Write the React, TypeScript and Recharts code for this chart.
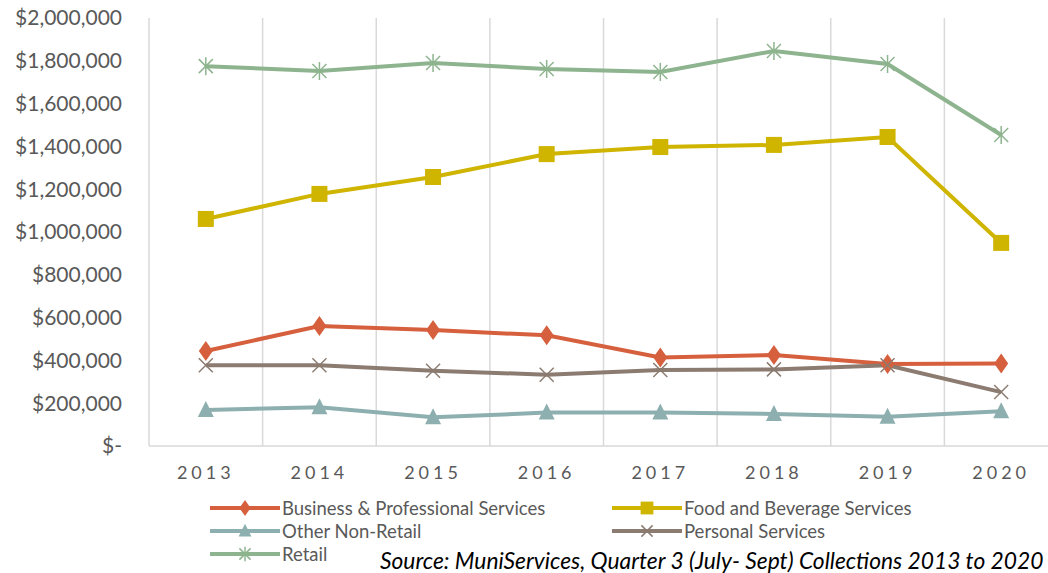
import { LineChart, Line, XAxis, YAxis, CartesianGrid } from 'recharts'

const years = ['2013', '2014', '2015', '2016', '2017', '2018', '2019', '2020']

const business = [444000, 561000, 542000, 517000, 414000, 425000, 383000, 386000]
const food = [1061000, 1178000, 1257000, 1364000, 1397000, 1407000, 1444000, 949000]
const otherNonRetail = [168000, 181000, 134000, 156000, 156000, 150000, 137000, 162000]
const personal = [377000, 377000, 352000, 333000, 355000, 358000, 377000, 252000]
const retail = [1775000, 1752000, 1790000, 1762000, 1748000, 1846000, 1785000, 1453000]

const yTicks = [0, 200000, 400000, 600000, 800000, 1000000, 1200000, 1400000, 1600000, 1800000, 2000000]

const series = [
  { key: 'business', name: 'Business & Professional Services', color: '#D6603E', shape: 'diamond' },
  { key: 'food', name: 'Food and Beverage Services', color: '#CFB400', shape: 'square' },
  { key: 'other', name: 'Other Non-Retail', color: '#8EAFAF', shape: 'triangle' },
  { key: 'personal', name: 'Personal Services', color: '#8B7B70', shape: 'x' },
  { key: 'retail', name: 'Retail', color: '#8DB48E', shape: 'star' },
]

const data = years.map((y, i) => ({
  year: y,
  business: business[i],
  food: food[i],
  other: otherNonRetail[i],
  personal: personal[i],
  retail: retail[i],
}))

const FONT = 'Lato, "Open Sans", sans-serif'
const HALF_BAND = 909 / years.length / 2

function Marker({ cx, cy, shape, color, scale = 1 }: any) {
  if (cx == null || cy == null) return null
  const s = scale
  switch (shape) {
    case 'diamond':
      return <polygon points={`${cx},${cy - 10 * s} ${cx + 7 * s},${cy} ${cx},${cy + 10 * s} ${cx - 7 * s},${cy}`} fill={color} />
    case 'square':
      return <rect x={cx - 8 * s} y={cy - 8 * s} width={16 * s} height={16 * s} fill={color} />
    case 'triangle':
      return <polygon points={`${cx},${cy - 9 * s} ${cx + 8 * s},${cy + 7 * s} ${cx - 8 * s},${cy + 7 * s}`} fill={color} />
    case 'x':
      return (
        <g stroke={color} strokeWidth={1.5}>
          <line x1={cx - 7 * s} y1={cy - 7 * s} x2={cx + 7 * s} y2={cy + 7 * s} />
          <line x1={cx - 7 * s} y1={cy + 7 * s} x2={cx + 7 * s} y2={cy - 7 * s} />
        </g>
      )
    case 'star':
      return (
        <g stroke={color} strokeWidth={1.5}>
          <line x1={cx - 7 * s} y1={cy - 7 * s} x2={cx + 7 * s} y2={cy + 7 * s} />
          <line x1={cx - 7 * s} y1={cy + 7 * s} x2={cx + 7 * s} y2={cy - 7 * s} />
          <line x1={cx} y1={cy - 9 * s} x2={cx} y2={cy + 9 * s} />
        </g>
      )
    default:
      return null
  }
}

const fmtMoney = (v: number) => (v === 0 ? '$-' : '$' + v.toLocaleString('en-US'))

// vertical grid at the category boundaries, like Excel
const boundaryLines = ({ offset }: any) => {
  const step = offset.width / years.length
  return Array.from({ length: years.length + 1 }, (_, i) => offset.left + i * step)
}

function LegendItem({ s }: any) {
  return (
    <div style={{ display: 'flex', alignItems: 'center', height: 23 }}>
      <svg width={70} height={20}>
        <line x1={0} y1={10} x2={70} y2={10} stroke={s.color} strokeWidth={4} />
        <Marker cx={35} cy={10} shape={s.shape} color={s.color} scale={0.8} />
      </svg>
      <span style={{ marginLeft: 2 }}>{s.name}</span>
    </div>
  )
}

export default function App() {
  return (
    <div style={{ position: 'absolute', left: 0, top: 0, width: 1048, height: 573, overflow: 'hidden', background: '#fff', fontFamily: FONT }}>
      <LineChart width={1070} height={573} data={data} margin={{ top: 18, right: 12, bottom: 87, left: 0 }}>
        <CartesianGrid vertical horizontal={false} stroke="#D9D9D9" strokeWidth={1.5} verticalCoordinatesGenerator={boundaryLines} />
        <XAxis
          dataKey="year"
          height={40}
          padding={{ left: HALF_BAND, right: HALF_BAND }}
          axisLine={{ stroke: '#D9D9D9', strokeWidth: 1.5 }}
          tickLine={false}
          tick={{ fill: '#595959', fontSize: 18, fontFamily: FONT, letterSpacing: 4 }}
          tickMargin={14}
        />
        <YAxis
          width={149}
          domain={[0, 2000000]}
          ticks={yTicks}
          axisLine={false}
          tickLine={false}
          tickFormatter={fmtMoney}
          tick={{ fill: '#595959', fontSize: 21, fontFamily: FONT }}
          tickMargin={21}
        />
        {series.map((s) => (
          <Line
            key={s.key}
            dataKey={s.key}
            name={s.name}
            stroke={s.color}
            strokeWidth={4}
            isAnimationActive={false}
            dot={(p: any) => <Marker key={`${s.key}-${p.index}`} cx={p.cx} cy={p.cy} shape={s.shape} color={s.color} />}
            activeDot={false}
          />
        ))}
      </LineChart>
      <div style={{ position: 'absolute', left: 210, top: 496, fontSize: 18.5, color: '#595959', display: 'grid', gridTemplateColumns: '402px 400px' }}>
        {series.map((s) => (
          <LegendItem key={s.key} s={s} />
        ))}
      </div>
      <div style={{ position: 'absolute', left: 380, top: 549, fontSize: 22.8, lineHeight: '23px', fontStyle: 'italic', color: '#000', whiteSpace: 'nowrap' }}>
        Source: MuniServices, Quarter 3 (July- Sept) Collections 2013 to 2020
      </div>
    </div>
  )
}
